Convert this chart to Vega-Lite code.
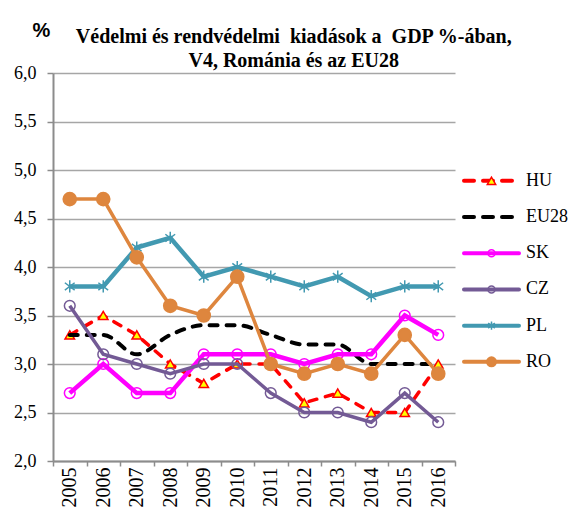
{
  "$schema": "https://vega.github.io/schema/vega-lite/v6.json",
  "background": "white",
  "padding": {"left": 13, "top": 20, "right": 0, "bottom": 0},
  "title": {
    "text": ["Védelmi és rendvédelmi\u00a0 kiadások a\u00a0 GDP %-ában,", "V4, Románia és az EU28"],
    "font": "Liberation Serif",
    "fontSize": 20,
    "fontWeight": "bold",
    "color": "black",
    "anchor": "middle",
    "lineHeight": 24,
    "offset": -51,
    "dx": 3
  },
  "config": {"view": {"stroke": null}},
  "bounds": "flush",
  "spacing": 7,
  "resolve": {"scale": {"x": "independent", "y": "independent"}},
  "datasets": {
    "d": [
      {"series": "HU", "year": "2005", "value": 3.3},
      {"series": "HU", "year": "2006", "value": 3.5},
      {"series": "HU", "year": "2007", "value": 3.3},
      {"series": "HU", "year": "2008", "value": 3.0},
      {"series": "HU", "year": "2009", "value": 2.8},
      {"series": "HU", "year": "2010", "value": 3.0},
      {"series": "HU", "year": "2011", "value": 3.0},
      {"series": "HU", "year": "2012", "value": 2.6},
      {"series": "HU", "year": "2013", "value": 2.7},
      {"series": "HU", "year": "2014", "value": 2.5},
      {"series": "HU", "year": "2015", "value": 2.5},
      {"series": "HU", "year": "2016", "value": 3.0},
      {"series": "EU28", "year": "2005", "value": 3.3},
      {"series": "EU28", "year": "2006", "value": 3.3},
      {"series": "EU28", "year": "2007", "value": 3.1},
      {"series": "EU28", "year": "2008", "value": 3.3},
      {"series": "EU28", "year": "2009", "value": 3.4},
      {"series": "EU28", "year": "2010", "value": 3.4},
      {"series": "EU28", "year": "2011", "value": 3.3},
      {"series": "EU28", "year": "2012", "value": 3.2},
      {"series": "EU28", "year": "2013", "value": 3.2},
      {"series": "EU28", "year": "2014", "value": 3.0},
      {"series": "EU28", "year": "2015", "value": 3.0},
      {"series": "EU28", "year": "2016", "value": 3.0},
      {"series": "SK", "year": "2005", "value": 2.7},
      {"series": "SK", "year": "2006", "value": 3.0},
      {"series": "SK", "year": "2007", "value": 2.7},
      {"series": "SK", "year": "2008", "value": 2.7},
      {"series": "SK", "year": "2009", "value": 3.1},
      {"series": "SK", "year": "2010", "value": 3.1},
      {"series": "SK", "year": "2011", "value": 3.1},
      {"series": "SK", "year": "2012", "value": 3.0},
      {"series": "SK", "year": "2013", "value": 3.1},
      {"series": "SK", "year": "2014", "value": 3.1},
      {"series": "SK", "year": "2015", "value": 3.5},
      {"series": "SK", "year": "2016", "value": 3.3},
      {"series": "CZ", "year": "2005", "value": 3.6},
      {"series": "CZ", "year": "2006", "value": 3.1},
      {"series": "CZ", "year": "2007", "value": 3.0},
      {"series": "CZ", "year": "2008", "value": 2.9},
      {"series": "CZ", "year": "2009", "value": 3.0},
      {"series": "CZ", "year": "2010", "value": 3.0},
      {"series": "CZ", "year": "2011", "value": 2.7},
      {"series": "CZ", "year": "2012", "value": 2.5},
      {"series": "CZ", "year": "2013", "value": 2.5},
      {"series": "CZ", "year": "2014", "value": 2.4},
      {"series": "CZ", "year": "2015", "value": 2.7},
      {"series": "CZ", "year": "2016", "value": 2.4},
      {"series": "PL", "year": "2005", "value": 3.8},
      {"series": "PL", "year": "2006", "value": 3.8},
      {"series": "PL", "year": "2007", "value": 4.2},
      {"series": "PL", "year": "2008", "value": 4.3},
      {"series": "PL", "year": "2009", "value": 3.9},
      {"series": "PL", "year": "2010", "value": 4.0},
      {"series": "PL", "year": "2011", "value": 3.9},
      {"series": "PL", "year": "2012", "value": 3.8},
      {"series": "PL", "year": "2013", "value": 3.9},
      {"series": "PL", "year": "2014", "value": 3.7},
      {"series": "PL", "year": "2015", "value": 3.8},
      {"series": "PL", "year": "2016", "value": 3.8},
      {"series": "RO", "year": "2005", "value": 4.7},
      {"series": "RO", "year": "2006", "value": 4.7},
      {"series": "RO", "year": "2007", "value": 4.1},
      {"series": "RO", "year": "2008", "value": 3.6},
      {"series": "RO", "year": "2009", "value": 3.5},
      {"series": "RO", "year": "2010", "value": 3.9},
      {"series": "RO", "year": "2011", "value": 3.0},
      {"series": "RO", "year": "2012", "value": 2.9},
      {"series": "RO", "year": "2013", "value": 3.0},
      {"series": "RO", "year": "2014", "value": 2.9},
      {"series": "RO", "year": "2015", "value": 3.3},
      {"series": "RO", "year": "2016", "value": 2.9}
    ],
    "leg": [
      {"name": "HU", "rank": 0},
      {"name": "EU28", "rank": 1},
      {"name": "SK", "rank": 2},
      {"name": "CZ", "rank": 3},
      {"name": "PL", "rank": 4},
      {"name": "RO", "rank": 5}
    ]
  },
  "hconcat": [
    {
      "width": 402,
      "height": 388,
      "data": {"name": "d"},
      "encoding": {
        "x": {
          "field": "year",
          "type": "ordinal",
          "scale": {"type": "band", "paddingInner": 0, "paddingOuter": 0},
          "axis": {
            "title": null,
            "tickBand": "extent",
            "labelAngle": 270,
            "labelFont": "Liberation Serif",
            "labelFontSize": 20,
            "labelColor": "black",
            "labelPadding": 1,
            "domainColor": "#8c8c8c",
            "domainWidth": 2,
            "tickColor": "#8c8c8c",
            "tickWidth": 1.5,
            "tickSize": 5,
            "grid": false
          }
        },
        "y": {
          "field": "value",
          "type": "quantitative",
          "scale": {"domain": [2, 6], "nice": false, "zero": false},
          "axis": {
            "values": [2, 2.5, 3, 3.5, 4, 4.5, 5, 5.5, 6],
            "labelExpr": "replace(format(datum.value, '.1f'), '.', ',')",
            "labelFont": "Liberation Serif",
            "labelFontSize": 18,
            "labelColor": "black",
            "labelPadding": 11,
            "domainColor": "#8c8c8c",
            "domainWidth": 2,
            "tickColor": "#8c8c8c",
            "tickWidth": 1.5,
            "tickSize": 6,
            "grid": true,
            "gridColor": "#a6a6a6",
            "gridWidth": 1.5,
            "title": "%",
            "titleAngle": 0,
            "titleFont": "Liberation Sans",
            "titleFontSize": 20,
            "titleFontWeight": "bold",
            "titleColor": "black",
            "titleAlign": "center",
            "titleBaseline": "alphabetic",
            "titleX": -12,
            "titleY": -37
          }
        }
      },
      "layer": [
        {
          "transform": [{"filter": "datum.series === 'HU'"}],
          "mark": {"type": "line", "color": "#ff0000", "strokeWidth": 3.5, "strokeDash": [8, 9], "strokeCap": "round"}
        },
        {
          "transform": [{"filter": "datum.series === 'HU'"}],
          "mark": {"type": "point", "shape": "triangle-up", "filled": true, "fill": "#ffff00", "stroke": "#ff0000", "strokeWidth": 1.5, "size": 90, "opacity": 1}
        },
        {
          "transform": [{"filter": "datum.series === 'EU28'"}],
          "mark": {"type": "line", "color": "black", "strokeWidth": 4, "strokeDash": [8, 9], "strokeCap": "round", "interpolate": "monotone"}
        },
        {
          "transform": [{"filter": "datum.series === 'SK'"}],
          "mark": {"type": "line", "color": "#ff00ff", "strokeWidth": 4.5}
        },
        {
          "transform": [{"filter": "datum.series === 'SK'"}],
          "mark": {"type": "point", "shape": "circle", "filled": false, "stroke": "#ff00ff", "strokeWidth": 1.5, "size": 115, "opacity": 1}
        },
        {
          "transform": [{"filter": "datum.series === 'CZ'"}],
          "mark": {"type": "line", "color": "#735a95", "strokeWidth": 3.5}
        },
        {
          "transform": [{"filter": "datum.series === 'CZ'"}],
          "mark": {"type": "point", "shape": "circle", "filled": false, "stroke": "#735a95", "strokeWidth": 1.5, "size": 115, "opacity": 1}
        },
        {
          "transform": [{"filter": "datum.series === 'PL'"}],
          "mark": {"type": "line", "color": "#4299b1", "strokeWidth": 4.5}
        },
        {
          "transform": [{"filter": "datum.series === 'PL'"}],
          "mark": {"type": "point", "shape": "M0,-1L0,1M-0.8,-0.6L0.8,0.6M-0.8,0.6L0.8,-0.6", "filled": false, "stroke": "#4299b1", "strokeWidth": 1.5, "size": 150, "opacity": 1}
        },
        {
          "transform": [{"filter": "datum.series === 'RO'"}],
          "mark": {"type": "line", "color": "#de863e", "strokeWidth": 3.5}
        },
        {
          "transform": [{"filter": "datum.series === 'RO'"}],
          "mark": {"type": "point", "shape": "circle", "filled": true, "fill": "#de863e", "stroke": "#de863e", "size": 160, "opacity": 1}
        }
      ]
    },
    {
      "width": 106,
      "height": 388,
      "data": {"name": "leg"},
      "encoding": {
        "y": {
          "field": "rank",
          "type": "quantitative",
          "scale": {"domain": [-2.98, 7.74], "reverse": true, "nice": false, "zero": false},
          "axis": null
        }
      },
      "layer": [
        {
          "mark": {"type": "rule", "strokeWidth": 4, "strokeCap": "round"},
          "encoding": {
            "x": {"datum": 2, "type": "quantitative", "scale": {"domain": [0, 106], "nice": false, "zero": false}, "axis": null},
            "x2": {"datum": 57},
            "color": {
              "field": "name",
              "type": "nominal",
              "scale": {"domain": ["HU", "EU28", "SK", "CZ", "PL", "RO"], "range": ["#ff0000", "black", "#ff00ff", "#735a95", "#4299b1", "#de863e"]},
              "legend": null
            },
            "strokeDash": {
              "field": "name",
              "type": "nominal",
              "scale": {"domain": ["HU", "EU28", "SK", "CZ", "PL", "RO"], "range": [[10, 9], [10, 9], [1, 0], [1, 0], [1, 0], [1, 0]]},
              "legend": null
            }
          }
        },
        {
          "transform": [{"filter": "datum.name === 'HU'"}],
          "mark": {"type": "point", "shape": "triangle-up", "filled": true, "fill": "#ffff00", "stroke": "#ff0000", "strokeWidth": 1.5, "size": 70, "opacity": 1},
          "encoding": {"x": {"datum": 29.5, "type": "quantitative"}}
        },
        {
          "transform": [{"filter": "datum.name === 'SK'"}],
          "mark": {"type": "point", "shape": "circle", "filled": false, "stroke": "#ff00ff", "strokeWidth": 1.5, "size": 50, "opacity": 1},
          "encoding": {"x": {"datum": 29.5, "type": "quantitative"}}
        },
        {
          "transform": [{"filter": "datum.name === 'CZ'"}],
          "mark": {"type": "point", "shape": "circle", "filled": false, "stroke": "#735a95", "strokeWidth": 1.5, "size": 50, "opacity": 1},
          "encoding": {"x": {"datum": 29.5, "type": "quantitative"}}
        },
        {
          "transform": [{"filter": "datum.name === 'PL'"}],
          "mark": {"type": "point", "shape": "M0,-1L0,1M-0.8,-0.6L0.8,0.6M-0.8,0.6L0.8,-0.6", "filled": false, "stroke": "#4299b1", "strokeWidth": 1.5, "size": 70, "opacity": 1},
          "encoding": {"x": {"datum": 29.5, "type": "quantitative"}}
        },
        {
          "transform": [{"filter": "datum.name === 'RO'"}],
          "mark": {"type": "point", "shape": "circle", "filled": true, "fill": "#de863e", "stroke": "#de863e", "size": 80, "opacity": 1},
          "encoding": {"x": {"datum": 29.5, "type": "quantitative"}}
        },
        {
          "mark": {"type": "text", "align": "left", "baseline": "middle", "font": "Liberation Serif", "fontSize": 18, "color": "black"},
          "encoding": {"x": {"datum": 64, "type": "quantitative"}, "text": {"field": "name"}}
        }
      ]
    }
  ]
}
